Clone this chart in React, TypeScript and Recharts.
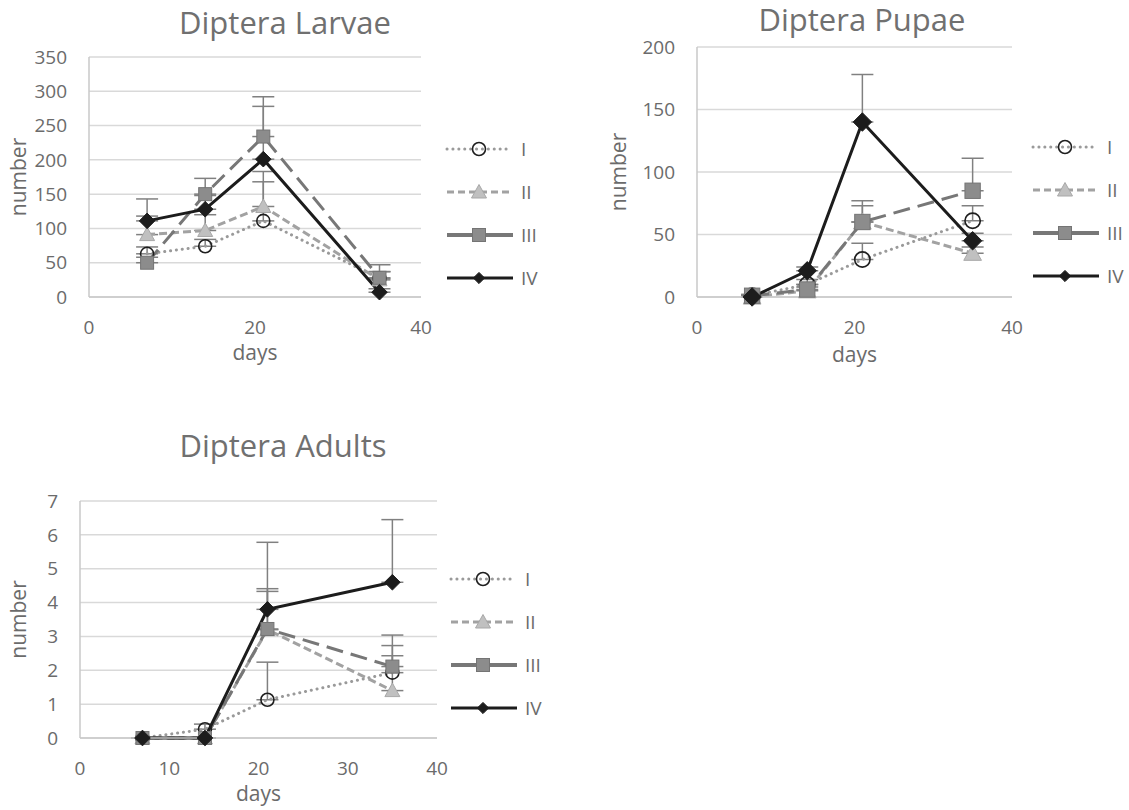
import React from 'react';
import { LineChart, Line, XAxis, YAxis, CartesianGrid, ErrorBar, Legend, Label } from 'recharts';

// sampling days shared by all three panels
const days = [7, 14, 21, 35];
const seriesNames = ['I', 'II', 'III', 'IV'];

// Diptera larvae means and upper error bars
const larvaeI = [63, 74, 111, 27];
const larvaeII = [91, 97, 132, 25];
const larvaeIII = [50, 150, 234, 28];
const larvaeIV = [111, 128, 201, 7];
const larvaeErrI = [10, 10, 57, 10];
const larvaeErrII = [27, 23, 51, 12];
const larvaeErrIII = [8, 23, 58, 19];
const larvaeErrIV = [32, 20, 77, 5];
const larvaeTicks = [0, 50, 100, 150, 200, 250, 300, 350];

// Diptera pupae
const pupaeI = [1, 10, 30, 61];
const pupaeII = [0, 5, 60, 35];
const pupaeIII = [1, 6, 60, 85];
const pupaeIV = [0, 21, 140, 45];
const pupaeErrI = [1, 4, 13, 12];
const pupaeErrII = [1, 3, 13, 5];
const pupaeErrIII = [1, 4, 17, 26];
const pupaeErrIV = [1, 3, 38, 6];
const pupaeTicks = [0, 50, 100, 150, 200];

// Diptera adults
const adultsI = [0, 0.26, 1.13, 1.93];
const adultsII = [0, 0, 3.2, 1.4];
const adultsIII = [0, 0, 3.22, 2.11];
const adultsIV = [0, 0, 3.8, 4.6];
const adultsErrI = [0, 0.15, 1.11, 0.5];
const adultsErrII = [0, 0, 1.21, 1.33];
const adultsErrIII = [0, 0, 1.11, 0.93];
const adultsErrIV = [0, 0, 1.98, 1.85];
const adultsTicks = [0, 1, 2, 3, 4, 5, 6, 7];

const FONT = '"Open Sans", sans-serif';
const TEXT = '#6b6b6b';

const STYLES: Record<string, any> = {
  I: { stroke: '#9a9a9a', width: 3, dash: '0.1 5.8', cap: 'round', legendDash: '0.1 5.8', shape: 'circle' },
  II: { stroke: '#a2a2a2', width: 3, dash: '8 4', cap: 'butt', legendDash: '7 4', shape: 'triangle' },
  III: { stroke: '#777777', width: 3, dash: '17 8', cap: 'butt', legendDash: undefined, shape: 'square' },
  IV: { stroke: '#1c1c1c', width: 3, dash: undefined, cap: 'butt', legendDash: undefined, shape: 'diamond' },
};

const buildRows = (vals: number[][], errs: number[][]) =>
  days.map((d, i) => {
    const row: any = { day: d };
    seriesNames.forEach((n, k) => {
      row[n] = vals[k][i];
      row['e' + n] = [0, errs[k][i]];
    });
    return row;
  });

const Marker = ({ shape, cx, cy, scale = 1 }: any) => {
  if (cx == null || cy == null) return null;
  if (shape === 'circle') {
    const r = 6.5 * scale;
    return <circle cx={cx} cy={cy} r={r} fill="none" stroke="#1e1e1e" strokeWidth={1.6} />;
  }
  if (shape === 'triangle') {
    const s = 7.5 * scale;
    return (
      <polygon
        points={`${cx},${cy - s} ${cx + s},${cy + s * 0.8} ${cx - s},${cy + s * 0.8}`}
        fill="#c0c0c0"
        stroke="#a8a8a8"
        strokeWidth={1}
      />
    );
  }
  if (shape === 'square') {
    const s = 6.5 * scale;
    return <rect x={cx - s} y={cy - s} width={2 * s} height={2 * s} fill="#8c8c8c" stroke="#747474" strokeWidth={1} />;
  }
  const s = 7.8 * scale;
  return (
    <polygon
      points={`${cx},${cy - s} ${cx + s},${cy} ${cx},${cy + s} ${cx - s},${cy}`}
      fill="#1c1c1c"
      stroke="#1c1c1c"
      strokeWidth={1}
    />
  );
};

const renderLegend = () => (
  <div style={{ fontFamily: FONT }}>
    {seriesNames.map((n) => {
      const st = STYLES[n];
      return (
        <div key={n} style={{ height: 43, display: 'flex', alignItems: 'center' }}>
          <svg width={72} height={22}>
            <line
              x1={2}
              x2={st.shape === 'circle' || st.shape === 'triangle' ? 64 : 68}
              y1={11}
              y2={11}
              stroke={st.stroke}
              strokeWidth={n === 'III' ? 4 : st.width}
              strokeDasharray={st.legendDash}
              strokeLinecap={st.cap}
            />
            <Marker shape={st.shape} cx={34} cy={11} scale={st.shape === 'diamond' ? 0.72 : 1} />
          </svg>
          <span style={{ color: TEXT, fontSize: 19, marginLeft: 4 }}>{n}</span>
        </div>
      );
    })}
  </div>
);

type PanelProps = {
  title: string;
  rows: any[];
  yTicks: number[];
  xTicks: number[];
  left: number;
  top: number;
  width: number;
  height: number;
  margin: { top: number; right: number; bottom: number; left: number };
  yWidth: number;
  xHeight: number;
  legendLeft: number;
  legendTop: number;
  legendWidth: number;
  titleCenter: number;
  titleTop: number;
  daysOffset: number;
  markerScale: number;
};

const Panel = (p: PanelProps) => (
  <div style={{ position: 'absolute', left: p.left, top: p.top, width: p.width, height: p.height }}>
    <div
      style={{
        position: 'absolute',
        left: p.titleCenter - 200,
        width: 400,
        top: p.titleTop,
        textAlign: 'center',
        fontFamily: FONT,
        fontSize: 31,
        lineHeight: 1,
        color: '#707070',
        zIndex: 2,
      }}
    >
      {p.title}
    </div>
    <LineChart width={p.width} height={p.height} data={p.rows} margin={p.margin}>
      <CartesianGrid vertical={false} stroke="#d9d9d9" strokeWidth={1.5} />
      <XAxis
        dataKey="day"
        type="number"
        domain={[0, 40]}
        ticks={p.xTicks}
        height={p.xHeight}
        tickLine={false}
        tickSize={0}
        tickMargin={24}
        axisLine={{ stroke: '#c8c8c8', strokeWidth: 1.5 }}
        tick={{ fill: TEXT, fontSize: 19, fontFamily: FONT }}
      >
        <Label value="days" position="insideBottom" offset={p.daysOffset} fill={TEXT} fontSize={21} fontFamily={FONT} />
      </XAxis>
      <YAxis
        type="number"
        domain={[p.yTicks[0], p.yTicks[p.yTicks.length - 1]]}
        ticks={p.yTicks}
        width={p.yWidth}
        tickLine={false}
        tickSize={0}
        tickMargin={22}
        axisLine={{ stroke: '#c8c8c8', strokeWidth: 1.5 }}
        tick={{ fill: TEXT, fontSize: 19, fontFamily: FONT }}
      >
        <Label
          value="number"
          angle={-90}
          position="insideLeft"
          offset={19}
          fill={TEXT}
          fontSize={21}
          fontFamily={FONT}
          style={{ textAnchor: 'middle' }}
        />
      </YAxis>
      <Legend
        layout="vertical"
        align="right"
        verticalAlign="top"
        content={renderLegend}
        wrapperStyle={{ left: p.legendLeft, top: p.legendTop, width: p.legendWidth }}
      />
      {seriesNames.map((n) => {
        const st = STYLES[n];
        return (
          <Line
            key={n}
            dataKey={n}
            name={n}
            stroke={st.stroke}
            strokeWidth={st.width}
            strokeDasharray={st.dash}
            strokeLinecap={st.cap}
            isAnimationActive={false}
            activeDot={false}
            dot={(dp: any) => (
              <Marker key={`${n}-${dp.index}`} shape={st.shape} cx={dp.cx} cy={dp.cy} scale={p.markerScale} />
            )}
          >
            <ErrorBar dataKey={'e' + n} width={11} stroke="#808080" strokeWidth={1.5} direction="y" />
          </Line>
        );
      })}
    </LineChart>
  </div>
);

const larvaeRows = buildRows(
  [larvaeI, larvaeII, larvaeIII, larvaeIV],
  [larvaeErrI, larvaeErrII, larvaeErrIII, larvaeErrIV]
);
const pupaeRows = buildRows(
  [pupaeI, pupaeII, pupaeIII, pupaeIV],
  [pupaeErrI, pupaeErrII, pupaeErrIII, pupaeErrIV]
);
const adultsRows = buildRows(
  [adultsI, adultsII, adultsIII, adultsIV],
  [adultsErrI, adultsErrII, adultsErrIII, adultsErrIV]
);

export default function App() {
  return (
    <div style={{ position: 'absolute', left: 0, top: 0, width: 1129, height: 810, background: '#fff' }}>
      <Panel
        title="Diptera Larvae"
        rows={larvaeRows}
        yTicks={larvaeTicks}
        xTicks={[0, 20, 40]}
        left={0}
        top={0}
        width={560}
        height={380}
        margin={{ top: 57, right: 29, bottom: 13, left: 0 }}
        yWidth={89}
        xHeight={70}
        legendLeft={445}
        legendTop={127}
        legendWidth={110}
        titleCenter={285}
        titleTop={7}
        daysOffset={7}
        markerScale={1}
      />
      <Panel
        title="Diptera Pupae"
        rows={pupaeRows}
        yTicks={pupaeTicks}
        xTicks={[0, 20, 40]}
        left={600}
        top={0}
        width={529}
        height={380}
        margin={{ top: 47, right: 21, bottom: 13, left: 0 }}
        yWidth={97}
        xHeight={70}
        legendLeft={431}
        legendTop={125}
        legendWidth={96}
        titleCenter={262}
        titleTop={4}
        daysOffset={5}
        markerScale={1.18}
      />
      <Panel
        title="Diptera Adults"
        rows={adultsRows}
        yTicks={adultsTicks}
        xTicks={[0, 10, 20, 30, 40]}
        left={0}
        top={420}
        width={560}
        height={390}
        margin={{ top: 81, right: 13, bottom: 7, left: 0 }}
        yWidth={80}
        xHeight={65}
        legendLeft={449}
        legendTop={137}
        legendWidth={110}
        titleCenter={283}
        titleTop={10}
        daysOffset={2}
        markerScale={1}
      />
    </div>
  );
}
